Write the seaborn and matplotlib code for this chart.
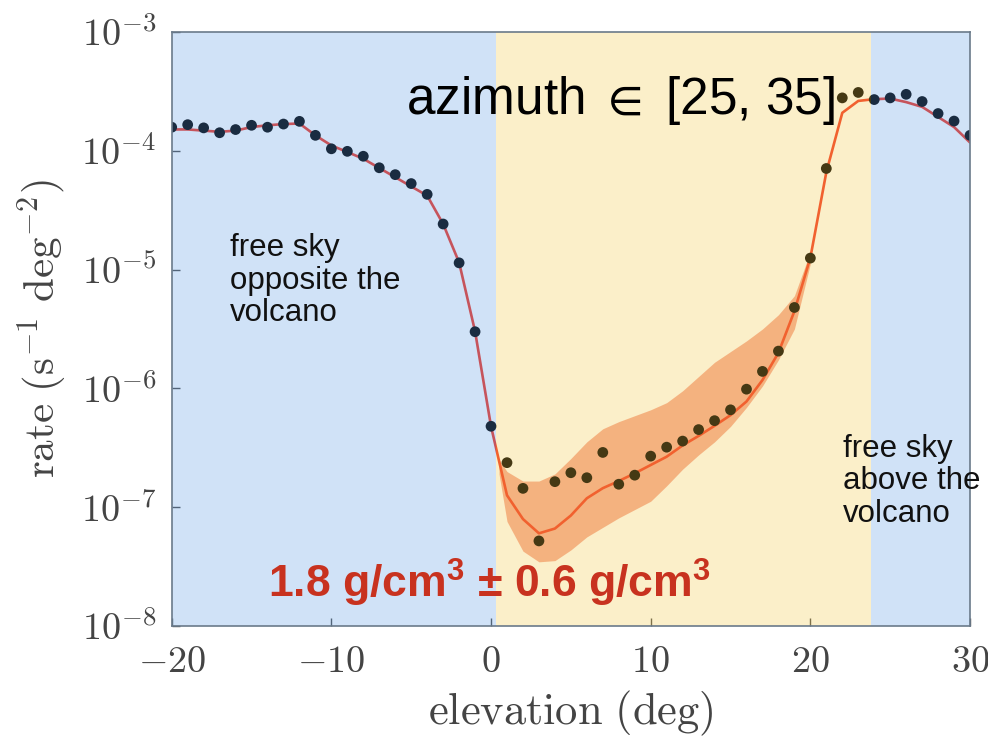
import numpy as np
import pandas as pd
import matplotlib
matplotlib.use("Agg")
import matplotlib.pyplot as plt
import seaborn as sns

# ---------------- data ----------------
elevation = list(range(-20, 31))
rate = [1.58e-4, 1.66e-4, 1.56e-4, 1.42e-4, 1.51e-4, 1.64e-4, 1.58e-4, 1.68e-4, 1.77e-4, 1.35e-4,
        1.04e-4, 9.9e-5, 9.0e-5, 7.2e-5, 6.3e-5, 5.3e-5, 4.3e-5, 2.42e-5, 1.14e-5, 3.0e-6,
        4.8e-7, 2.37e-7, 1.44e-7, 5.2e-8, 1.64e-7, 1.95e-7, 1.77e-7, 2.89e-7, 1.56e-7, 1.86e-7,
        2.69e-7, 3.2e-7, 3.6e-7, 4.5e-7, 5.35e-7, 6.6e-7, 9.85e-7, 1.39e-6, 2.06e-6, 4.8e-6,
        1.25e-5, 7.1e-5, 2.79e-4, 3.1e-4, 2.7e-4, 2.79e-4, 2.99e-4, 2.6e-4, 2.06e-4, 1.78e-4, 1.35e-4]

model_elev = list(range(-20, 31))
model_log_rate = [-3.82, -3.82, -3.83, -3.84, -3.83, -3.80, -3.785, -3.775, -3.77, -3.87,
                  -3.955, -4.01, -4.067, -4.145, -4.222, -4.30, -4.377, -4.616, -4.94, -5.52,
                  -6.32, -6.90, -7.10, -7.22, -7.18, -7.07, -6.925, -6.84, -6.78, -6.715,
                  -6.645, -6.575, -6.48, -6.40, -6.315, -6.225, -6.11, -5.93, -5.70, -5.35,
                  -4.90, -4.18, -3.68, -3.58, -3.565, -3.56, -3.59, -3.63, -3.715, -3.80, -3.93]

band_elev = [0.5, 1, 2, 3, 4, 5, 6, 7, 8, 9, 10, 11, 12, 13, 14, 15, 16, 17, 18, 19, 20]
band_log_hi = [-6.60, -6.70, -6.78, -6.78, -6.72, -6.59, -6.45, -6.34, -6.28, -6.23, -6.18,
               -6.12, -6.02, -5.90, -5.78, -5.69, -5.60, -5.50, -5.38, -5.22, -4.85]
band_log_lo = [-6.72, -7.12, -7.37, -7.46, -7.45, -7.36, -7.25, -7.17, -7.09, -7.02, -6.95,
               -6.82, -6.68, -6.56, -6.45, -6.32, -6.16, -5.98, -5.76, -5.50, -4.95]

regions_start = [-20, 0.3, 23.8]
regions_end = [0.3, 23.8, 30]
regions_color = ["#4a90e2", "#f1c232", "#4a90e2"]

xticks = [-20, -10, 0, 10, 20, 30]
xtick_labels = [r"$-20$", r"$-10$", r"$0$", r"$10$", r"$20$", r"$30$"]
yticks = [1e-8, 1e-7, 1e-6, 1e-5, 1e-4, 1e-3]
ytick_labels = [r"$10^{-8}$", r"$10^{-7}$", r"$10^{-6}$", r"$10^{-5}$", r"$10^{-4}$", r"$10^{-3}$"]

# ---------------- plot ----------------
sns.set_theme(style="white")
plt.rcParams["font.family"] = ["Liberation Sans", "DejaVu Sans"]
plt.rcParams["mathtext.fontset"] = "cm"
plt.rcParams["mathtext.rm"] = "Liberation Sans"
plt.rcParams["mathtext.bf"] = "Liberation Sans:bold"
plt.rcParams["mathtext.it"] = "Liberation Sans:italic"

fig = plt.figure(figsize=(9.88, 7.38), dpi=100)
ax = fig.add_axes([0.1738, 0.1518, 0.8080, 0.8048])

pts = pd.DataFrame({"elevation": elevation, "rate": rate})
model = pd.DataFrame({"elevation": model_elev, "rate": 10 ** np.array(model_log_rate)})

ax.fill_between(band_elev, 10 ** np.array(band_log_lo), 10 ** np.array(band_log_hi),
                color="#f06a4a", alpha=0.55, lw=0, zorder=1)
sns.lineplot(data=model, x="elevation", y="rate", ax=ax, color="#f2402e", lw=1.9, zorder=2)
sns.scatterplot(data=pts, x="elevation", y="rate", ax=ax, color="#0a0a0a", s=60,
                edgecolor="none", zorder=3)

for s, e, c in zip(regions_start, regions_end, regions_color):
    ax.axvspan(s, e, color=c, alpha=0.26, lw=0, zorder=4)

ax.set_yscale("log")
ax.set_xlim(-20, 30)
ax.set_ylim(1e-8, 1e-3)
ax.set_xticks(xticks)
ax.set_xticklabels(xtick_labels)
ax.set_yticks(yticks)
ax.set_yticklabels(ytick_labels)
ax.yaxis.set_minor_locator(matplotlib.ticker.LogLocator(base=10, subs=np.arange(2, 10)))
ax.yaxis.set_minor_formatter(matplotlib.ticker.NullFormatter())
ax.tick_params(axis="both", which="major", direction="in", length=6, width=1,
               color="#555555", labelsize=27.5, labelcolor="#444444")
ax.tick_params(axis="x", which="major", pad=13)
ax.tick_params(axis="y", which="major", pad=11)
ax.tick_params(axis="y", which="minor", direction="in", length=3, width=0.8, color="#555555")
ax.tick_params(left=True, bottom=True)
for sp in ax.spines.values():
    sp.set_color("#6a7a8a")
    sp.set_linewidth(1.2)
    sp.set_zorder(6)

ax.set_xlabel(r"$\mathrm{elevation\ (deg)}$", fontsize=32, color="#444444", labelpad=6,
              math_fontfamily="cm")
ax.set_ylabel(r"$\mathrm{rate\ (s^{-1}\ deg^{-2})}$", fontsize=31, color="#444444", labelpad=8,
              math_fontfamily="cm")
for lab in ax.get_xticklabels() + ax.get_yticklabels():
    lab.set_math_fontfamily("cm")

ax.text(0.5625, 0.885, r"azimuth $\in$ [25, 35]", transform=ax.transAxes, fontsize=37,
        color="black", ha="center", va="center", zorder=10, math_fontfamily="stixsans")
ax.text(0.073, 0.662, "free sky\nopposite the\nvolcano", transform=ax.transAxes,
        fontsize=22.5, color="#111111", ha="left", va="top", linespacing=1.12, zorder=10)
ax.text(0.841, 0.324, "free sky\nabove the\nvolcano", transform=ax.transAxes,
        fontsize=22.5, color="#111111", ha="left", va="top", linespacing=1.12, zorder=10,
        clip_on=False)
ax.text(0.398, 0.072, r"$\mathbf{1.8\ g/cm^{3}\ {\pm}\ 0.6\ g/cm^{3}}$", transform=ax.transAxes,
        fontsize=32, color="#c8321f", ha="center", va="center", zorder=10,
        math_fontfamily="custom")

fig.savefig("out.png", dpi=100)
